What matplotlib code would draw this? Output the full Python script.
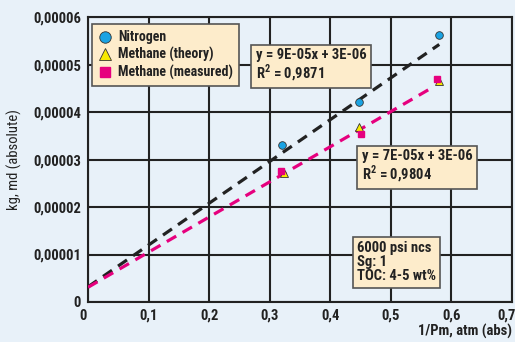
import numpy as np
import matplotlib.pyplot as plt
import matplotlib.transforms as mtrans
from matplotlib import font_manager as fm
from matplotlib.ticker import FixedLocator

# datos
n2_x = [0.320, 0.447, 0.579]
n2_y = [3.30e-5, 4.21e-5, 5.62e-5]
ch4_teo_x = [0.323, 0.448, 0.580]
ch4_teo_y = [2.72e-5, 3.69e-5, 4.65e-5]
ch4_med_x = [0.318, 0.451, 0.576]
ch4_med_y = [2.76e-5, 3.54e-5, 4.69e-5]

# rectas de tendencia (pendiente, ordenada, x final)
fit_n2 = (8.8e-5, 3.2e-6, 0.58)
fit_ch4 = (7.4e-5, 3.1e-6, 0.565)

x_ticks = [0, 0.1, 0.2, 0.3, 0.4, 0.5, 0.6, 0.7]
x_labels = ["0", "0,1", "0,2", "0,3", "0,4", "0,5", "0,6", "0,7"]
y_ticks = [0, 1e-5, 2e-5, 3e-5, 4e-5, 5e-5, 6e-5]
y_labels = ["0", "0,00001", "0,00002", "0,00003", "0,00004", "0,00005", "0,00006"]

# fuente condensada si existe
disponibles = {f.name for f in fm.fontManager.ttflist}
fuente = [f for f in ["Roboto Condensed", "Barlow Semi Condensed", "Asap Condensed"]
          if f in disponibles][:1]
plt.rcParams["font.family"] = fuente + ["DejaVu Sans"]
plt.rcParams["font.weight"] = "heavy"
plt.rcParams["mathtext.fontset"] = "custom"
if fuente:
    plt.rcParams["mathtext.rm"] = fuente[0] + ":bold"

bg = "#e8f1f9"
caja = dict(boxstyle="square,pad=0.3", fc="#fdeccb", ec="#555555", lw=1.2)
oscuro = "#222222"
fs = 10.5

fig = plt.figure(figsize=(5.15, 3.42), dpi=100, facecolor=bg)
ax = fig.add_axes([0.171, 0.117, 0.823, 0.833], facecolor=bg)

for pend, orig, xf, col in [(*fit_n2, oscuro), (*fit_ch4, "#e6007e")]:
    xx = np.array([0, xf])
    ax.plot(xx, orig + pend * xx, color=col, lw=2.3, dashes=(3.4, 2.3), zorder=3)

ax.plot(n2_x, n2_y, "o", color="#1aa3e3", mec="#333333", mew=0.6, ms=5.5,
        ls="none", label="Nitrogen", zorder=4)
ax.plot(ch4_teo_x, ch4_teo_y, "^", color="#f7ea00", mec="#333333", mew=0.6, ms=6,
        ls="none", label="Methane (theory)", zorder=4)
ax.plot(ch4_med_x, ch4_med_y, "s", color="#e6007e", mec="#e6007e", ms=4.8,
        ls="none", label="Methane (measured)", zorder=5)

ax.set_xlim(0, 0.7)
ax.set_ylim(0, 6e-5)
ax.xaxis.set_major_locator(FixedLocator(x_ticks))
ax.yaxis.set_major_locator(FixedLocator(y_ticks))
ax.set_xticklabels(x_labels)
ax.set_yticklabels(y_labels)
ax.tick_params(length=0, labelsize=fs, colors=oscuro, pad=5)
ax.grid(True, color=oscuro, lw=1.5)
for s in ax.spines.values():
    s.set_color(oscuro)
    s.set_linewidth(1.5)

# primeras/ultimas etiquetas un poco a la izquierda, como en el original
desplaza = mtrans.ScaledTranslation(-5 / 100, 0, fig.dpi_scale_trans)
for i in (0, -1):
    lab = ax.get_xticklabels()[i]
    lab.set_transform(lab.get_transform() + desplaza)

ax.set_ylabel("kg, md (absolute)", fontsize=fs, color=oscuro, labelpad=8)
fig.text(0.994, 0.008, "1/Pm, atm (abs)", ha="right", va="bottom",
         fontsize=fs, color=oscuro)

leg = ax.legend(loc="upper left", bbox_to_anchor=(0.0, 0.99), fontsize=10,
                frameon=True, fancybox=False, handlelength=1.0, markerscale=1.5,
                handletextpad=0.4, borderpad=0.45, labelspacing=0.2,
                borderaxespad=0.3)
leg.get_frame().set_facecolor("#fdeccb")
leg.get_frame().set_edgecolor("#555555")
leg.get_frame().set_linewidth(1.2)
leg.get_frame().set_alpha(1)
for t in leg.get_texts():
    t.set_color(oscuro)

ax.text(0.277, 5.35e-5, "y = 9E-05x + 3E-06\nR$^2$ = 0,9871", fontsize=fs,
        color=oscuro, va="top", linespacing=1.05, bbox=caja, zorder=6)
ax.text(0.452, 3.22e-5, "y = 7E-05x + 3E-06\nR$^2$ = 0,9804", fontsize=fs,
        color=oscuro, va="top", linespacing=1.05, bbox=caja, zorder=6)
ax.text(0.444, 1.28e-5, "6000 psi ncs\nSg: 1\nTOC: 4-5 wt%", fontsize=fs,
        color=oscuro, va="top", linespacing=1.0, bbox=caja, zorder=6)

fig.savefig("out.png", dpi=100, facecolor=bg)
